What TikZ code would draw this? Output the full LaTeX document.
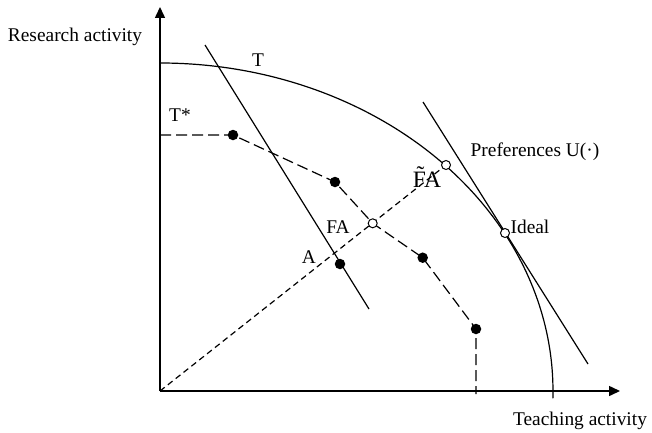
\documentclass[tikz,border=0pt]{standalone}
\usepackage{fontspec}
\setmainfont{Liberation Serif}
\usetikzlibrary{arrows.meta}

\begin{document}
\begin{tikzpicture}[x=1pt,y=1pt,line width=1.2pt,>={Triangle[length=11pt,width=10pt]},
  font=\fontsize{19.4}{23}\selectfont,
  fdot/.style={circle,fill,inner sep=0pt,minimum size=10.5pt},
  odot/.style={circle,draw,fill=white,inner sep=0pt,minimum size=9pt,line width=1pt},
  front/.style={dash pattern=on 11pt off 5pt},
  ray/.style={dash pattern=on 6pt off 4pt},
  lab/.style={inner sep=0pt}]
 \useasboundingbox (-160,-41) rectangle (492,391);
 % axes
 \coordinate (O) at (0,0);
 \coordinate (ytip) at (0,384);
 \coordinate (xtip) at (460,0);
 \draw[->,line width=1.5pt] (O) -- (ytip);
 \draw[->,line width=1.5pt] (O) -- (xtip);
 % frontier T
 \draw (0,328) arc[start angle=90,end angle=-1.3,x radius=393pt,y radius=328pt];
 % points
 \coordinate (s) at (0,256);
 \coordinate (p0) at (73,256);
 \coordinate (p1) at (175,209);
 \coordinate (fa) at (212.7,167.7);
 \coordinate (p2) at (262.7,133.3);
 \coordinate (p3) at (316,62);
 \coordinate (foot) at (316,-3);
 \coordinate (adot) at (180,127);
 \coordinate (fat) at (286,226);
 \coordinate (ideal) at (345,158);
 % straight lines
 \coordinate (a1) at (45,346);
 \coordinate (a2) at (209,82);
 \coordinate (u1) at (263,289);
 \coordinate (u2) at (428,27);
 \draw (a1) -- (a2);
 \draw (u1) -- (u2);
 % T* and the ray
 \draw[front] (s) -- (p0) -- (p1) -- (fa) -- (p2) -- (p3) -- (foot);
 \draw[ray] (O) -- (fat);
 \foreach \p in {p0,p1,p2,p3,adot}
  \node[fdot] (d\p) at (\p) {};
 \foreach \p in {fa,fat,ideal}
  \node[odot] (o\p) at (\p) {};
 % labels
 \node[lab] (ylab) at (-85,354) {Research activity};
 \node[lab] (xlab) at (420,-30) {Teaching activity};
 \node[lab] (tlab) at (98,331) {T};
 \node[lab] (tslab) at (20,276) {T*};
 \node[lab] (falab) at (178,164) {FA};
 \node[lab] (alab) at (149,134) {A};
 \node[lab,font=\fontsize{23.5}{26}\selectfont] (fatlab) at (267,214) {\~{F}A};
 \node[lab,anchor=west] (idlab) at (350,164) {Ideal};
 \node[lab] (ulab) at (375,239) {Preferences U(\textperiodcentered)};
\end{tikzpicture}
\end{document}
